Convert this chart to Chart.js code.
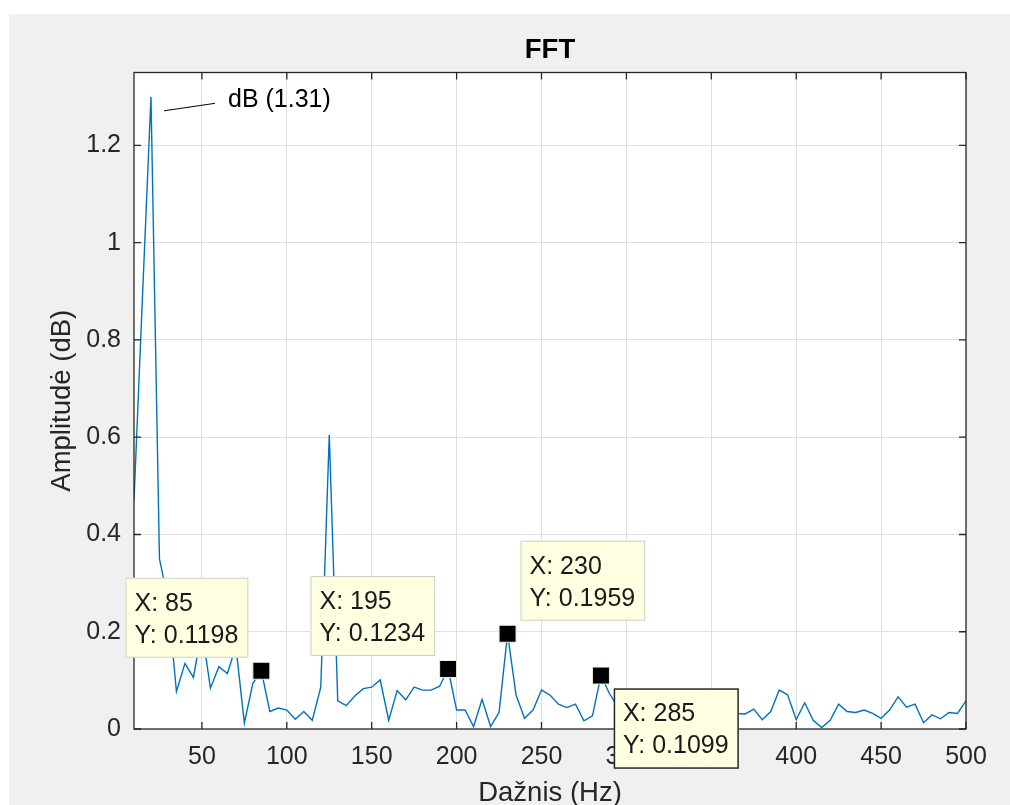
<!DOCTYPE html>
<html lang="lt">
<head>
<meta charset="UTF-8">
<title>FFT</title>
<script src="https://cdn.jsdelivr.net/npm/chart.js"></script>
<style>
  body { margin: 0; background: #ffffff; }
  canvas { display: block; }
</style>
</head>
<body>
<canvas id="fftChart" width="1010" height="805"></canvas>
<script>
// spectrum, 5 Hz bins
const freqs = [10, 15, 20, 25, 30, 35, 40, 45, 50, 55, 60, 65, 70, 75, 80, 85, 90, 95, 100,
  105, 110, 115, 120, 125, 130, 135, 140, 145, 150, 155, 160, 165, 170, 175, 180, 185, 190, 195, 200,
  205, 210, 215, 220, 225, 230, 235, 240, 245, 250, 255, 260, 265, 270, 275, 280, 285, 290, 295, 300,
  305, 310, 315, 320, 325, 330, 335, 340, 345, 350, 355, 360, 365, 370, 375, 380, 385, 390, 395, 400,
  405, 410, 415, 420, 425, 430, 435, 440, 445, 450, 455, 460, 465, 470, 475, 480, 485, 490, 495, 500];
const amps = [0.47, 0.89, 1.30, 0.35, 0.265, 0.077, 0.135, 0.106, 0.205, 0.084, 0.128, 0.114, 0.17, 0.012, 0.094, 0.1198, 0.036, 0.043, 0.039,
  0.02, 0.036, 0.018, 0.086, 0.605, 0.058, 0.048, 0.068, 0.083, 0.086, 0.101, 0.018, 0.079, 0.06, 0.086, 0.08, 0.08, 0.088, 0.1234, 0.039,
  0.039, 0.005, 0.061, 0.005, 0.034, 0.1959, 0.07, 0.022, 0.039, 0.08, 0.07, 0.051, 0.044, 0.051, 0.017, 0.027, 0.1099, 0.073, 0.045, 0.06,
  0.035, 0.05, 0.028, 0.055, 0.04, 0.062, 0.03, 0.048, 0.036, 0.052, 0.03, 0.045, 0.032, 0.031, 0.041, 0.019, 0.036, 0.08, 0.07, 0.019,
  0.054, 0.018, 0.003, 0.018, 0.051, 0.036, 0.034, 0.039, 0.032, 0.022, 0.039, 0.066, 0.045, 0.051, 0.013, 0.029, 0.021, 0.034, 0.032, 0.058];

const xTicks = [50, 100, 150, 200, 250, 300, 350, 400, 450, 500];
const yTicks = [0, 0.2, 0.4, 0.6, 0.8, 1, 1.2];

// data tips
const tipX = [85, 195, 230, 285];
const tipY = [0.1198, 0.1234, 0.1959, 0.1099];
const tipSide = ['upleft', 'upleft', 'upright', 'downright'];
const tipActive = [false, false, false, true];

const peakText = 'dB (1.31)';

const FONT = '"Liberation Sans", Arial, sans-serif';
const AXIS = '#262626';

const figurePlugin = {
  id: 'figure',
  beforeDraw(chart) {
    const ctx = chart.ctx;
    const a = chart.chartArea;
    ctx.save();
    ctx.fillStyle = '#ffffff';
    ctx.fillRect(0, 0, chart.width, chart.height);
    ctx.fillStyle = '#f0f0f0';
    ctx.fillRect(9, 14, chart.width - 9, chart.height - 14);
    ctx.fillStyle = '#ffffff';
    ctx.fillRect(a.left, a.top, a.right - a.left, a.bottom - a.top);
    ctx.restore();
  },
  afterDatasetsDraw(chart) {
    const ctx = chart.ctx;
    const a = chart.chartArea;
    const xs = chart.scales.x, ys = chart.scales.y;
    const tl = 7;
    ctx.save();
    ctx.strokeStyle = AXIS;
    ctx.lineWidth = 1.3;
    ctx.beginPath();
    xTicks.forEach(v => {
      const px = xs.getPixelForValue(v);
      ctx.moveTo(px, a.bottom); ctx.lineTo(px, a.bottom - tl);
      ctx.moveTo(px, a.top); ctx.lineTo(px, a.top + tl);
    });
    yTicks.forEach(v => {
      const py = ys.getPixelForValue(v);
      ctx.moveTo(a.left, py); ctx.lineTo(a.left + tl, py);
      ctx.moveTo(a.right, py); ctx.lineTo(a.right - tl, py);
    });
    ctx.stroke();
    ctx.strokeRect(a.left, a.top, a.right - a.left, a.bottom - a.top);
    ctx.restore();
  },
  afterDraw(chart) {
    const ctx = chart.ctx;
    const xs = chart.scales.x, ys = chart.scales.y;
    ctx.save();

    // peak label
    const pi = amps.indexOf(Math.max(...amps));
    const px = xs.getPixelForValue(freqs[pi]);
    const py = ys.getPixelForValue(amps[pi]);
    ctx.strokeStyle = '#000';
    ctx.lineWidth = 1;
    ctx.beginPath();
    ctx.moveTo(px + 13, py + 14);
    ctx.lineTo(px + 64, py + 6.5);
    ctx.stroke();
    ctx.font = '25px ' + FONT;
    ctx.fillStyle = '#000';
    ctx.textAlign = 'left';
    ctx.textBaseline = 'middle';
    ctx.fillText(peakText, px + 77, py + 3);

    // data tip boxes
    tipX.forEach((xv, i) => {
      const mx = xs.getPixelForValue(xv);
      const my = ys.getPixelForValue(tipY[i]);
      const lines = ['X: ' + xv, 'Y: ' + tipY[i].toFixed(4)];
      const w = Math.max(...lines.map(t => ctx.measureText(t).width)) + 19;
      const h = 80, gap = 13;
      const side = tipSide[i];
      const left = side.endsWith('left') ? mx - gap - w : mx + gap;
      const top = side.startsWith('up') ? my - gap - h : my + gap;
      ctx.fillStyle = '#ffffe1';
      ctx.fillRect(left, top, w, h);
      ctx.strokeStyle = tipActive[i] ? AXIS : '#cfcfc4';
      ctx.lineWidth = tipActive[i] ? 1.5 : 1;
      ctx.strokeRect(left + 0.5, top + 0.5, w - 1, h - 1);
      ctx.fillStyle = '#1a1a1a';
      ctx.fillText(lines[0], left + 9, top + 26);
      ctx.fillText(lines[1], left + 9, top + 58);
    });
    ctx.restore();
  }
};

const ctx = document.getElementById('fftChart').getContext('2d');

new Chart(ctx, {
  data: {
    datasets: [{
      type: 'scatter',
      order: 0,
      data: tipX.map((x, i) => ({ x: x, y: tipY[i] })),
      pointStyle: 'rect',
      pointRadius: 12,
      pointHoverRadius: 12,
      backgroundColor: '#000000',
      borderColor: '#efefd2',
      borderWidth: 1
    }, {
      type: 'line',
      order: 1,
      data: freqs.map((f, i) => ({ x: f, y: amps[i] })),
      borderColor: '#0072bd',
      borderWidth: 1.4,
      pointRadius: 0,
      tension: 0,
      fill: false
    }]
  },
  options: {
    responsive: false,
    animation: false,
    devicePixelRatio: 1,
    events: [],
    layout: { padding: { left: 0, right: 44, top: 0, bottom: 0 } },
    plugins: {
      legend: { display: false },
      tooltip: { enabled: false },
      title: {
        display: true,
        text: 'FFT',
        fullSize: false,
        color: '#000000',
        font: { family: FONT, size: 27.5, weight: 'bold', lineHeight: 1.2 },
        padding: { top: 33.5, bottom: 6 }
      }
    },
    scales: {
      x: {
        type: 'linear',
        min: 10,
        max: 500,
        afterBuildTicks: s => { s.ticks = xTicks.map(v => ({ value: v })); },
        afterFit: s => { s.height = 76; },
        grid: { color: '#dfdfdf', lineWidth: 1, drawTicks: false },
        border: { display: false },
        ticks: {
          color: AXIS,
          padding: 13,
          maxRotation: 0,
          autoSkip: false,
          font: { family: FONT, size: 25, lineHeight: 1.2 },
          callback: v => String(v)
        },
        title: {
          display: true,
          text: 'Dažnis (Hz)',
          color: AXIS,
          font: { family: FONT, size: 27.5, lineHeight: 0.8 },
          padding: { top: 0, bottom: 0.5 }
        }
      },
      y: {
        type: 'linear',
        min: 0,
        max: 1.35,
        afterBuildTicks: s => { s.ticks = yTicks.map(v => ({ value: v })); },
        afterFit: s => { s.width = 134; },
        grid: { color: '#dfdfdf', lineWidth: 1, drawTicks: false },
        border: { display: false },
        ticks: {
          color: AXIS,
          padding: 13,
          autoSkip: false,
          font: { family: FONT, size: 25, lineHeight: 1.2 },
          callback: v => String(+v.toFixed(2))
        },
        title: {
          display: true,
          text: 'Amplitudė (dB)',
          color: AXIS,
          font: { family: FONT, size: 27.5, lineHeight: 1 },
          padding: { top: 48.25, bottom: 0 }
        }
      }
    }
  },
  plugins: [figurePlugin]
});
</script>
</body>
</html>
